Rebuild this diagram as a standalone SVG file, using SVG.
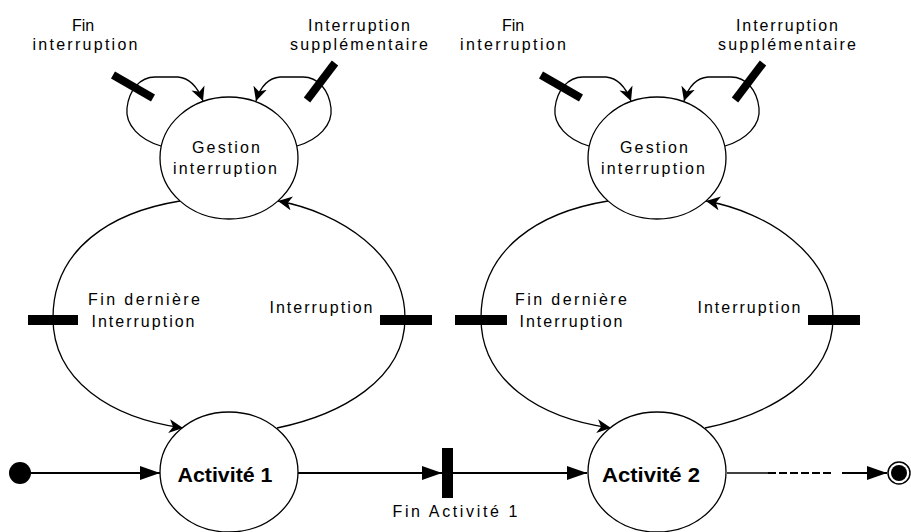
<svg xmlns="http://www.w3.org/2000/svg" width="911" height="532" viewBox="0 0 911 532">
<style>
.st{fill:#fff;stroke:#000;stroke-width:1.3}
.ln{fill:none;stroke:#000;stroke-width:1.3}
.th{fill:none;stroke:#000;stroke-width:2}
.bar{fill:#000}
.tk{stroke:#000;stroke-width:8;stroke-linecap:butt}
.lb{font-family:"Liberation Sans",Arial,sans-serif;font-size:16px;fill:#000;text-anchor:middle}
.ac{font-family:"Liberation Sans",Arial,sans-serif;font-size:20px;font-weight:bold;fill:#000;text-anchor:middle}
</style>
<defs>
<marker id="a" markerUnits="userSpaceOnUse" markerWidth="16" markerHeight="14" refX="14" refY="7" orient="auto"><path d="M0,0 L14,7 L0,14 L4,7 Z" fill="#000"/></marker>
<marker id="b" markerUnits="userSpaceOnUse" markerWidth="22" markerHeight="16" refX="20" refY="8" orient="auto"><path d="M0,1 L20,8 L0,15 Z" fill="#000"/></marker>
</defs>
<rect width="911" height="532" fill="#fff"/>

<g id="connectors">
<!-- cycle 1 -->
<path class="ln" d="M161,146 C140,140 125,125 127,108 C129,90 140,77 155,77 L178,77 C190,78 198,88 203,101" marker-end="url(#a)"/>
<path class="ln" d="M297,146 C318,140 333,125 331,108 C329,90 318,77 303,77 L280,77 C268,78 260,88 256,101" marker-end="url(#a)"/>
<path class="ln" d="M180,201 C112,212 53,248 53,318 C53,380 110,418 183,428" marker-end="url(#a)"/>
<path class="ln" d="M277,428 C340,415 405,380 405,318 C405,255 340,212 278,201" marker-end="url(#a)"/>
<!-- cycle 2 -->
<path class="ln" d="M589,146 C568,140 553,125 555,108 C557,90 568,77 583,77 L606,77 C618,78 626,88 631,101" marker-end="url(#a)"/>
<path class="ln" d="M725,146 C746,140 761,125 759,108 C757,90 746,77 731,77 L708,77 C696,78 688,88 684,101" marker-end="url(#a)"/>
<path class="ln" d="M608,201 C540,212 481,248 481,318 C481,380 538,418 611,428" marker-end="url(#a)"/>
<path class="ln" d="M705,428 C768,415 833,380 833,318 C833,255 768,212 706,201" marker-end="url(#a)"/>
<!-- main flow -->
<line class="th" x1="31" y1="473" x2="160" y2="473" marker-end="url(#b)"/>
<line class="th" x1="298" y1="473" x2="442" y2="473" marker-end="url(#b)"/>
<line class="th" x1="453" y1="473" x2="587" y2="473" marker-end="url(#b)"/>
<line class="ln" x1="727" y1="473" x2="768" y2="473"/>
<line class="th" x1="768" y1="473" x2="834" y2="473" stroke-dasharray="8,3"/>
<line class="th" x1="842" y1="473" x2="887" y2="473" marker-end="url(#b)"/>
</g>

<g id="evt-fin-interruption-1">
<line class="tk" x1="113" y1="75" x2="153" y2="98"/>
<text class="lb" x="83" y="31">Fin</text>
<text class="lb" x="85" y="50" textLength="105" lengthAdjust="spacing">interruption</text>
</g>
<g id="evt-interruption-supp-1">
<line class="tk" x1="335" y1="63" x2="307" y2="100"/>
<text class="lb" x="359" y="31" textLength="102" lengthAdjust="spacing">Interruption</text>
<text class="lb" x="359" y="50" textLength="138" lengthAdjust="spacing">supplémentaire</text>
</g>
<g id="evt-fin-derniere-1">
<rect class="bar" x="28" y="315" width="50" height="10"/>
<text class="lb" x="144" y="305" textLength="112" lengthAdjust="spacing">Fin dernière</text>
<text class="lb" x="143" y="327" textLength="103" lengthAdjust="spacing">Interruption</text>
</g>
<g id="evt-interruption-1">
<rect class="bar" x="380" y="315" width="52" height="10"/>
<text class="lb" x="321" y="313" textLength="103" lengthAdjust="spacing">Interruption</text>
</g>
<g id="gestion-1">
<ellipse class="st" cx="229" cy="158" rx="69" ry="61"/>
<text class="lb" x="226" y="153" textLength="68" lengthAdjust="spacing">Gestion</text>
<text class="lb" x="225" y="174" textLength="104" lengthAdjust="spacing">interruption</text>
</g>

<g id="evt-fin-interruption-2">
<line class="tk" x1="541" y1="75" x2="581" y2="98"/>
<text class="lb" x="513" y="31">Fin</text>
<text class="lb" x="513" y="50" textLength="106" lengthAdjust="spacing">interruption</text>
</g>
<g id="evt-interruption-supp-2">
<line class="tk" x1="763" y1="63" x2="735" y2="100"/>
<text class="lb" x="787" y="31" textLength="102" lengthAdjust="spacing">Interruption</text>
<text class="lb" x="787" y="50" textLength="138" lengthAdjust="spacing">supplémentaire</text>
</g>
<g id="evt-fin-derniere-2">
<rect class="bar" x="455" y="315" width="52" height="10"/>
<text class="lb" x="571" y="305" textLength="112" lengthAdjust="spacing">Fin dernière</text>
<text class="lb" x="571" y="327" textLength="103" lengthAdjust="spacing">Interruption</text>
</g>
<g id="evt-interruption-2">
<rect class="bar" x="808" y="315" width="52" height="10"/>
<text class="lb" x="749" y="313" textLength="103" lengthAdjust="spacing">Interruption</text>
</g>
<g id="gestion-2">
<ellipse class="st" cx="657" cy="158" rx="69" ry="61"/>
<text class="lb" x="654" y="153" textLength="68" lengthAdjust="spacing">Gestion</text>
<text class="lb" x="653" y="174" textLength="104" lengthAdjust="spacing">interruption</text>
</g>

<g id="start">
<circle cx="20" cy="473" r="11" fill="#000"/>
</g>
<g id="activite-1">
<ellipse class="st" cx="229" cy="472" rx="69" ry="60"/>
<text class="ac" x="225" y="482" textLength="95" lengthAdjust="spacingAndGlyphs">Activité 1</text>
</g>
<g id="evt-fin-activite-1">
<rect class="bar" x="442" y="448" width="11" height="50"/>
<text class="lb" x="455" y="517" textLength="125" lengthAdjust="spacing">Fin  Activité  1</text>
</g>
<g id="activite-2">
<ellipse class="st" cx="657" cy="472" rx="69" ry="60"/>
<text class="ac" x="651" y="482" textLength="98" lengthAdjust="spacingAndGlyphs">Activité 2</text>
</g>
<g id="end">
<circle cx="899" cy="473" r="11" fill="#fff" stroke="#000" stroke-width="1.5"/>
<circle cx="899" cy="473" r="8" fill="#000"/>
</g>
</svg>
